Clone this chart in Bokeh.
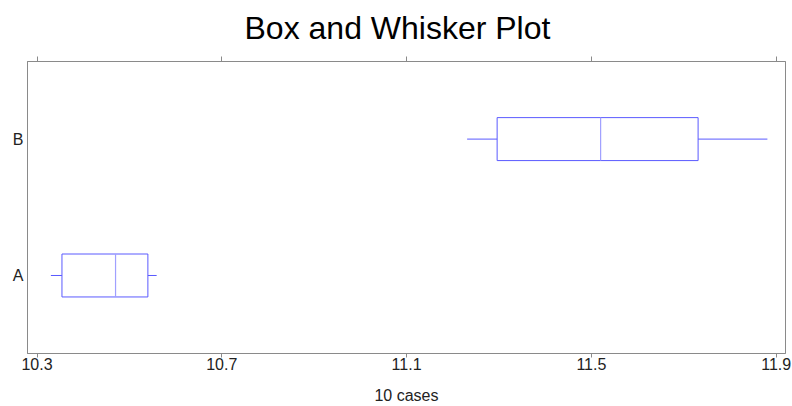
from bokeh.plotting import figure
from bokeh.models import Range1d, FixedTicker, LinearAxis, ColumnDataSource
from bokeh.embed import file_html
from bokeh.resources import INLINE

# Data
categories = ["A", "B"]
whisker_low = [10.33, 11.231]
q1 = [10.354, 11.296]
median = [10.47, 11.52]
q3 = [10.54, 11.731]
whisker_high = [10.559, 11.881]
x_ticks = [10.3, 10.7, 11.1, 11.5, 11.9]
x_tick_labels = ["10.3", "10.7", "11.1", "11.5", "11.9"]
x_label = "10 cases"
title_text = "Box and Whisker Plot"

FONT = "Liberation Sans"
GRAY = "#8a8a8a"
BLUE = "#5a5aff"
MED = "#a0a0ff"
BOX_H = 0.315

ypos = [i + 1 for i in range(len(categories))]
src = ColumnDataSource(dict(
    y=ypos, low=whisker_low, q1=q1, med=median, q3=q3, high=whisker_high,
    y0=[y - BOX_H / 2 for y in ypos], y1=[y + BOX_H / 2 for y in ypos],
))

p = figure(width=792, height=406, output_backend="svg", toolbar_location=None,
           x_range=Range1d(10.2794, 11.9202), y_range=Range1d(0.428, 2.569),
           x_axis_location=None, y_axis_location=None,
           min_border_left=27, min_border_right=7, min_border_top=0, min_border_bottom=0)
p.grid.visible = False
p.outline_line_color = GRAY
p.background_fill_color = "white"
p.border_fill_color = "white"

p.title.text = title_text
p.title.align = "left"
p.title.offset = 217
p.title.vertical_align = "top"
p.title.text_font = FONT
p.title.text_font_size = "32px"
p.title.text_font_style = "normal"
p.title.text_color = "black"
p.title.standoff = 18

xt = FixedTicker(ticks=x_ticks)
bottom = LinearAxis(ticker=xt, axis_label=x_label)
bottom.major_label_overrides = {t: l for t, l in zip(x_ticks, x_tick_labels)}
top = LinearAxis(ticker=xt)
top.major_label_overrides = {t: "" for t in x_ticks}
top.major_label_standoff = 0
top.major_tick_out = 5
for ax in (bottom, top):
    ax.axis_line_color = GRAY
    ax.major_tick_line_color = GRAY
    ax.minor_tick_line_color = None
    ax.major_tick_in = 0
bottom.major_tick_out = 4
bottom.major_label_standoff = 0
bottom.major_label_text_font = FONT
bottom.major_label_text_font_size = "16px"
bottom.major_label_text_color = "#222222"
bottom.axis_label_text_font = FONT
bottom.axis_label_text_font_size = "16px"
bottom.axis_label_text_font_style = "normal"
bottom.axis_label_text_color = "#222222"
bottom.axis_label_standoff = 14
p.add_layout(bottom, "below")
p.add_layout(top, "above")

left = LinearAxis(ticker=FixedTicker(ticks=ypos))
left.major_label_overrides = {y: c for y, c in zip(ypos, categories)}
left.axis_line_color = GRAY
left.major_tick_line_color = None
left.minor_tick_line_color = None
left.major_tick_in = 0
left.major_tick_out = 0
left.major_label_standoff = 4
left.major_label_text_font = FONT
left.major_label_text_font_size = "16px"
left.major_label_text_color = "#222222"
p.add_layout(left, "left")

p.segment(x0="low", y0="y", x1="q1", y1="y", source=src, line_color=BLUE, line_width=1)
p.segment(x0="q3", y0="y", x1="high", y1="y", source=src, line_color=BLUE, line_width=1)
p.quad(left="q1", right="q3", bottom="y0", top="y1", source=src,
       fill_color=None, line_color=BLUE, line_width=1)
p.segment(x0="med", y0="y0", x1="med", y1="y1", source=src, line_color=MED, line_width=1.2)

open("out.html", "w").write(file_html(p, INLINE))
